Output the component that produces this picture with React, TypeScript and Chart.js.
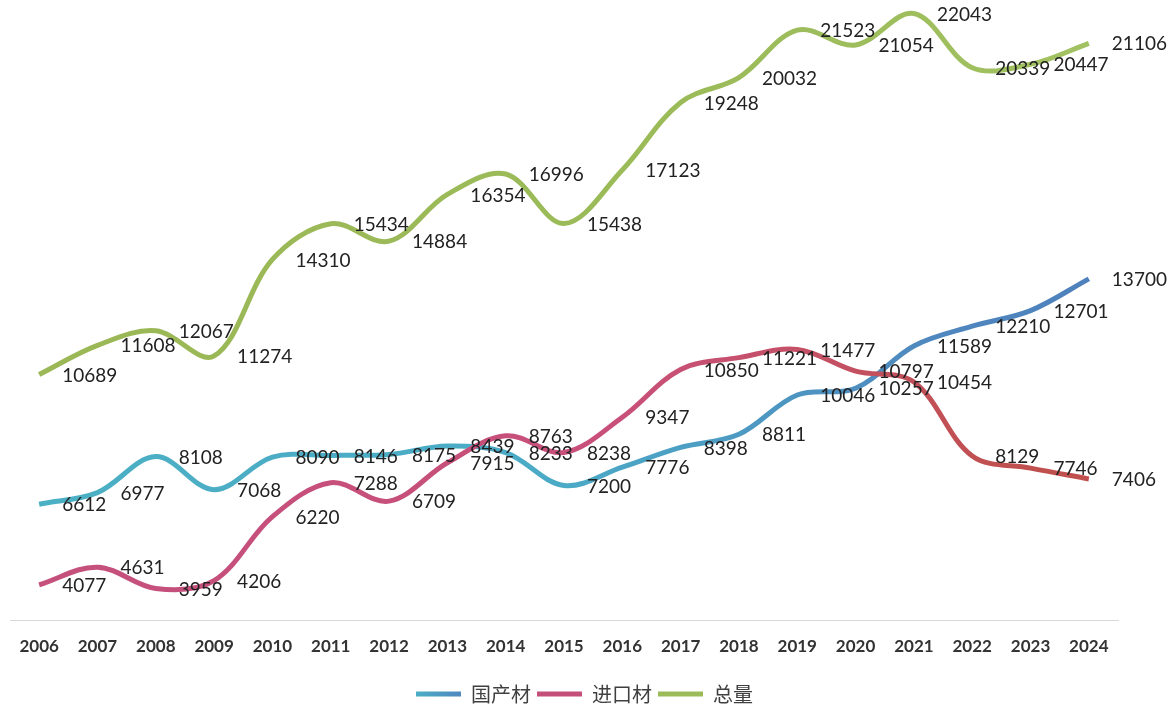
import React, { useEffect, useRef } from 'react';
import { Chart, registerables } from 'chart.js';

Chart.register(...registerables);

const years = ['2006', '2007', '2008', '2009', '2010', '2011', '2012', '2013', '2014', '2015', '2016', '2017', '2018', '2019', '2020', '2021', '2022', '2023', '2024'];
const domestic = [6612, 6977, 8108, 7068, 8090, 8146, 8175, 8439, 8233, 7200, 7776, 8398, 8811, 10046, 10257, 11589, 12210, 12701, 13700];
const imported = [4077, 4631, 3959, 4206, 6220, 7288, 6709, 7915, 8763, 8238, 9347, 10850, 11221, 11477, 10797, 10454, 8129, 7746, 7406];
const total = [10689, 11608, 12067, 11274, 14310, 15434, 14884, 16354, 16996, 15438, 17123, 19248, 20032, 21523, 21054, 22043, 20339, 20447, 21106];
const seriesNames = ['国产材', '进口材', '总量'];

const blueStops: [number, string][] = [[0, '#4BB0C4'], [0.5, '#4BAAC6'], [0.85, '#4F86BE'], [1, '#4F81BD']];
const redStops: [number, string][] = [[0, '#C4507C'], [0.55, '#C8507A'], [0.9, '#C0504F'], [1, '#C0504D']];
const greenStops: [number, string][] = [[0, '#9BB756'], [0.6, '#9BBB59'], [1, '#A2C263']];

function hGrad(chart: any, stops: [number, string][]) {
  const { ctx, chartArea } = chart;
  if (!chartArea) return stops[0][1];
  const g = ctx.createLinearGradient(chartArea.left, 0, chartArea.right, 0);
  stops.forEach(([o, c]) => g.addColorStop(o, c));
  return g;
}

const valueLabels = {
  id: 'valueLabels',
  afterDatasetsDraw(chart: any) {
    const ctx = chart.ctx;
    ctx.save();
    ctx.font = '19px Lato';
    ctx.fillStyle = '#222222';
    ctx.textAlign = 'left';
    ctx.textBaseline = 'middle';
    chart.data.datasets.forEach((ds: any, i: number) => {
      const meta = chart.getDatasetMeta(i);
      meta.data.forEach((pt: any, j: number) => {
        ctx.fillText(String(ds.data[j]), pt.x + 23, pt.y + 1);
      });
    });
    ctx.restore();
  },
};

const placeLegend = {
  id: 'placeLegend',
  afterLayout(chart: any) {
    const lg = chart.legend;
    if (!lg) return;
    const shift = chart.width / 2 - (lg.left + lg.right) / 2;
    lg.left += shift;
    lg.right += shift;
    lg.top += 5;
    lg.bottom += 5;
  },
};

export default function App() {
  const ref = useRef<HTMLCanvasElement | null>(null);

  useEffect(() => {
    if (!ref.current) return;
    const chart = new Chart(ref.current, {
      type: 'line',
      data: {
        labels: years,
        datasets: [
          {
            label: seriesNames[0],
            data: domestic,
            borderColor: (c: any) => hGrad(c.chart, blueStops),
            backgroundColor: '#4BACC6',
            borderWidth: 5,
            pointRadius: 0,
            tension: 0.35,
            clip: false as any,
            order: 3,
          },
          {
            label: seriesNames[1],
            data: imported,
            borderColor: (c: any) => hGrad(c.chart, redStops),
            backgroundColor: '#C4507A',
            borderWidth: 5,
            pointRadius: 0,
            tension: 0.35,
            clip: false as any,
            order: 2,
          },
          {
            label: seriesNames[2],
            data: total,
            borderColor: (c: any) => hGrad(c.chart, greenStops),
            backgroundColor: '#9BBB59',
            borderWidth: 5,
            pointRadius: 0,
            tension: 0.35,
            clip: false as any,
            order: 1,
          },
        ],
      },
      options: {
        responsive: true,
        maintainAspectRatio: false,
        animation: false,
        layout: { padding: { left: 10, right: 51, top: 0, bottom: 0 } },
        scales: {
          x: {
            offset: true,
            grid: { display: false, drawTicks: false },
            border: { display: true, color: '#D9D9D9', width: 1 },
            ticks: {
              color: '#333333',
              font: { family: 'Lato', size: 17, weight: 'bold' },
              padding: 16,
              maxRotation: 0,
              autoSkip: false,
            },
          },
          y: {
            display: false,
            min: 2950,
            max: 22470,
          },
        },
        plugins: {
          tooltip: { enabled: false },
          legend: {
            position: 'bottom',
            labels: {
              boxWidth: 45,
              boxHeight: 5,
              padding: 6,
              color: '#404040',
              font: { family: '"Noto Sans CJK SC", sans-serif', size: 20 },
              generateLabels: (ch: any) => {
                const g = ch.ctx.createLinearGradient(418, 0, 463, 0);
                g.addColorStop(0, '#4BACC6');
                g.addColorStop(1, '#4F86BE');
                const fills = [g, '#C4507A', '#9BBB59'];
                return seriesNames.map((name, i) => ({
                  text: name,
                  fillStyle: fills[i],
                  strokeStyle: fills[i],
                  lineWidth: 0,
                  hidden: false,
                  datasetIndex: i,
                  fontColor: '#404040',
                }));
              },
            },
          },
        },
      },
      plugins: [valueLabels, placeLegend],
    } as any);
    return () => chart.destroy();
  }, []);

  return (
    <div style={{ position: 'fixed', left: 0, top: 0, width: 1169, height: 709, background: '#ffffff' }}>
      <canvas ref={ref} />
    </div>
  );
}
